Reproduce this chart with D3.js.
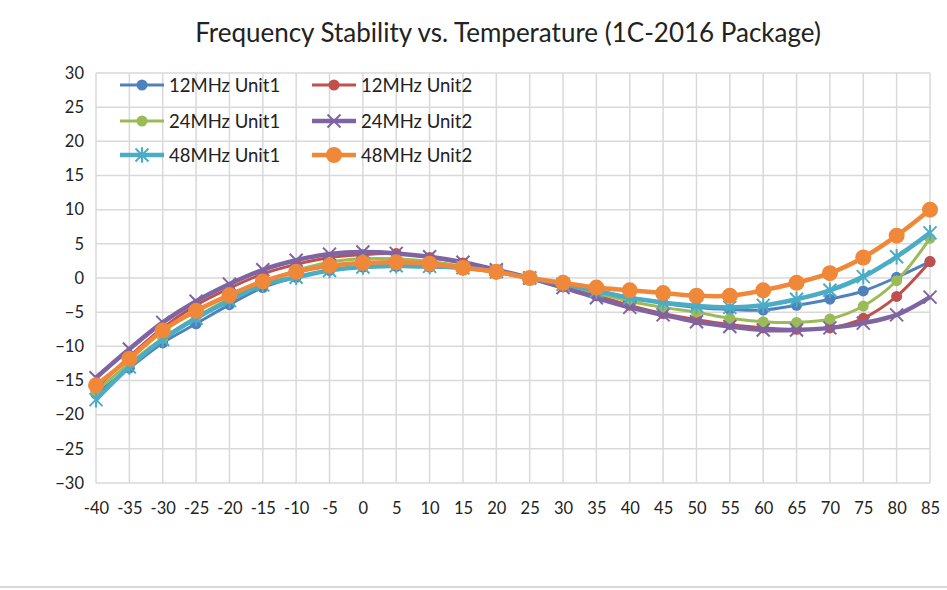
<!DOCTYPE html>
<html>
<head>
<meta charset="utf-8">
<script src="https://cdn.jsdelivr.net/npm/d3@7"></script>
<style>
  body { margin: 0; background: #fff; }
  svg { display: block; font-family: Lato, "Noto Sans", sans-serif; }
</style>
</head>
<body>
<svg id="chart" width="947" height="590"></svg>
<script>
"use strict";

// temperatures (category axis)
var temps = [-40, -35, -30, -25, -20, -15, -10, -5, 0, 5, 10, 15, 20, 25,
             30, 35, 40, 45, 50, 55, 60, 65, 70, 75, 80, 85];

var yTicks = [30, 25, 20, 15, 10, 5, 0, -5, -10, -15, -20, -25, -30];

var seriesNames = ["12MHz Unit1", "12MHz Unit2", "24MHz Unit1",
                   "24MHz Unit2", "48MHz Unit1", "48MHz Unit2"];

var mhz12unit1 = [-17.0, -13.2, -9.5, -6.7, -3.9, -1.4, 0.1, 1.1, 1.6, 1.7, 1.6, 1.4, 0.9, 0,
                  -0.8, -1.8, -2.8, -3.7, -4.3, -4.6, -4.7, -4.0, -3.1, -1.9, 0.1, 2.4];
var mhz12unit2 = [-16.2, -11.5, -7.3, -4.0, -1.5, 0.6, 2.0, 3.0, 3.4, 3.6, 3.0, 2.2, 1.1, 0,
                  -1.3, -2.6, -4.0, -5.2, -6.1, -6.8, -7.3, -7.5, -7.3, -5.9, -2.7, 2.4];
var mhz24unit1 = [-16.6, -12.5, -8.8, -5.7, -3.0, -0.7, 1.1, 2.3, 2.8, 2.8, 2.4, 1.7, 0.9, 0,
                  -1.0, -2.2, -3.4, -4.3, -5.0, -5.9, -6.4, -6.5, -6.0, -4.1, -0.4, 5.8];
var mhz24unit2 = [-14.6, -10.4, -6.5, -3.4, -0.9, 1.2, 2.6, 3.5, 3.8, 3.6, 3.1, 2.3, 1.2, 0,
                  -1.4, -2.9, -4.3, -5.4, -6.4, -7.1, -7.6, -7.6, -7.3, -6.6, -5.4, -2.8];
var mhz48unit1 = [-17.8, -13.0, -9.0, -5.9, -3.3, -1.0, 0.1, 1.1, 1.6, 1.8, 1.7, 1.5, 0.9, 0,
                  -0.9, -1.9, -2.9, -3.6, -4.1, -4.3, -4.0, -3.1, -1.8, 0.2, 3.1, 6.6];
var mhz48unit2 = [-15.7, -11.8, -7.7, -4.8, -2.5, -0.5, 0.9, 1.8, 2.2, 2.3, 2.1, 1.5, 0.9, 0,
                  -0.7, -1.4, -1.8, -2.2, -2.6, -2.6, -1.8, -0.7, 0.7, 3.0, 6.2, 10.0];

var seriesValues = [mhz12unit1, mhz12unit2, mhz24unit1, mhz24unit2, mhz48unit1, mhz48unit2];

(function () {

    // styling per series
    var styles = [
        {color: "#4f81bd", width: 3, marker: "circle", size: 5.5},
        {color: "#c0504d", width: 3, marker: "circle", size: 5.5},
        {color: "#9bbb59", width: 3, marker: "circle", size: 5.5},
        {color: "#8064a2", width: 4.5, marker: "x", size: 6.5},
        {color: "#4bacc6", width: 4.5, marker: "star", size: 6.5},
        {color: "#f0883a", width: 4.5, marker: "circle", size: 8}
    ];

    var svg = d3.select("#chart");
    var plotLeft = 96, plotRight = 930, plotTop = 73, plotBottom = 483;

    var x = d3.scalePoint().domain(temps).range([plotLeft, plotRight]);
    var y = d3.scaleLinear().domain([-30, 30]).range([plotBottom, plotTop]);

    // title
    svg.append("text")
        .attr("x", 508).attr("y", 42)
        .attr("text-anchor", "middle")
        .attr("font-size", 26)
        .attr("fill", "#222")
        .text("Frequency Stability vs. Temperature (1C-2016 Package)");

    // gridlines
    var grid = svg.append("g").attr("stroke", "#d9d9d9").attr("stroke-width", 1.5);
    grid.selectAll("line.h").data(yTicks).enter().append("line")
        .attr("x1", plotLeft).attr("x2", plotRight)
        .attr("y1", function (d) { return y(d); })
        .attr("y2", function (d) { return y(d); });
    grid.selectAll("line.v").data(temps).enter().append("line")
        .attr("y1", plotTop).attr("y2", plotBottom)
        .attr("x1", function (d) { return x(d); })
        .attr("x2", function (d) { return x(d); });

    // axes (labels only)
    var yAxis = svg.append("g")
        .attr("transform", "translate(" + (plotLeft - 12) + ",0)")
        .call(d3.axisLeft(y).tickValues(yTicks).tickSize(0).tickPadding(0));
    yAxis.select(".domain").remove();
    yAxis.selectAll("text").attr("font-size", 16.5).attr("fill", "#222")
        .attr("font-family", "Lato, 'Noto Sans', sans-serif");

    var xAxis = svg.append("g")
        .attr("transform", "translate(0," + (plotBottom + 19) + ")")
        .call(d3.axisBottom(x).tickSize(0).tickPadding(0));
    xAxis.select(".domain").remove();
    xAxis.selectAll("text").attr("font-size", 16.5).attr("fill", "#222")
        .attr("font-family", "Lato, 'Noto Sans', sans-serif");

    // bottom border of chart area
    svg.append("line")
        .attr("x1", 0).attr("x2", 947).attr("y1", 587).attr("y2", 587)
        .attr("stroke", "#d9d9d9").attr("stroke-width", 2);

    function drawMarker (g, st, cx, cy) {
        var s = st.size;
        if (st.marker === "circle") {
            g.append("circle").attr("cx", cx).attr("cy", cy).attr("r", s)
                .attr("fill", st.color);
        } else {
            var d = "M" + (cx - s) + "," + (cy - s) + "L" + (cx + s) + "," + (cy + s) +
                    "M" + (cx - s) + "," + (cy + s) + "L" + (cx + s) + "," + (cy - s);
            if (st.marker === "star") {
                d += "M" + cx + "," + (cy - s * 1.2) + "L" + cx + "," + (cy + s * 1.2);
            }
            g.append("path").attr("d", d)
                .attr("stroke", st.color).attr("stroke-width", 2)
                .attr("fill", "none");
        }
    }

    var line = d3.line()
        .x(function (d, i) { return x(temps[i]); })
        .y(function (d) { return y(d); })
        .curve(d3.curveCatmullRom.alpha(0.5));

    seriesValues.forEach(function (vals, k) {
        var st = styles[k];
        var g = svg.append("g");
        g.append("path").datum(vals)
            .attr("d", line)
            .attr("fill", "none")
            .attr("stroke", st.color)
            .attr("stroke-width", st.width)
            .attr("stroke-linejoin", "round");
        vals.forEach(function (v, i) {
            drawMarker(g, st, x(temps[i]), y(v));
        });
    });

    // legend
    var legendX = [120, 312], legendY = [85, 121, 155];
    seriesNames.forEach(function (name, k) {
        var st = styles[k];
        var lx = legendX[k % 2], ly = legendY[Math.floor(k / 2)];
        var g = svg.append("g");
        g.append("line").attr("x1", lx).attr("x2", lx + 44)
            .attr("y1", ly).attr("y2", ly)
            .attr("stroke", st.color).attr("stroke-width", st.width);
        drawMarker(g, st, lx + 22, ly);
        g.append("text").attr("x", lx + 49).attr("y", ly + 6.5)
            .attr("font-size", 18.5).attr("fill", "#222")
            .text(name);
    });

})();
</script>
</body>
</html>
